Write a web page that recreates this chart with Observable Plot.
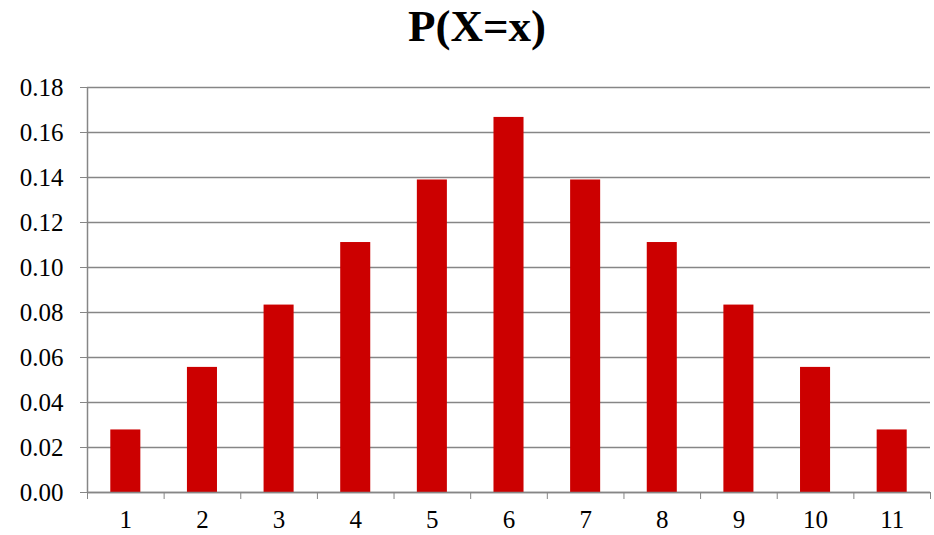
<!DOCTYPE html>
<html>
<head>
<meta charset="utf-8">
<script src="https://cdn.jsdelivr.net/npm/d3@7"></script>
<script src="https://cdn.jsdelivr.net/npm/@observablehq/plot@0.6"></script>
<style>
  body { margin: 0; background: #fff; }
  #title { height: 65px; box-sizing: border-box; padding-top: 4px; padding-left: 20px; width: 934px;
    text-align: center; font-family: "Liberation Serif", serif; font-weight: bold; font-size: 45px; line-height: 45px; color: #000; }
  #chart svg { display: block; }
</style>
</head>
<body>
<div id="title">P(X=x)</div>
<div id="chart"></div>
<script>
const categories = [1, 2, 3, 4, 5, 6, 7, 8, 9, 10, 11];
const probabilities = [0.0278, 0.0556, 0.0833, 0.1111, 0.1389, 0.1667, 0.1389, 0.1111, 0.0833, 0.0556, 0.0278];
const yTicks = [0, 0.02, 0.04, 0.06, 0.08, 0.10, 0.12, 0.14, 0.16, 0.18];

const data = categories.map((c, i) => ({x: c, p: probabilities[i]}));
const xDomain = [categories[0] - 0.5, categories[categories.length - 1] + 0.5];
const boundaries = categories.map(c => c - 0.5).concat([xDomain[1]]);
const half = 0.196;
const gray = "#868686";

const chart = Plot.plot({
  width: 934,
  height: 470,
  marginTop: 22,
  marginBottom: 43,
  marginLeft: 87,
  marginRight: 4,
  style: {fontFamily: "Liberation Serif, serif", fontSize: "25px", color: "#000", background: "#fff"},
  x: {domain: xDomain},
  y: {domain: [0, 0.18]},
  marks: [
    Plot.gridY(yTicks, {stroke: gray, strokeOpacity: 1, strokeWidth: 1.5}),
    Plot.rectY(data, {x1: d => d.x - half, x2: d => d.x + half, y: "p", fill: "#CC0000"}),
    Plot.ruleX([xDomain[0]], {y1: 0, y2: 0.18, stroke: gray, strokeWidth: 1.5}),
    Plot.ruleY([0], {stroke: gray, strokeWidth: 1.5}),
    Plot.axisY({ticks: yTicks, tickFormat: d => d.toFixed(2), tickSize: 7, tickPadding: 17, stroke: gray, fontSize: 25, label: null}),
    Plot.axisX({ticks: boundaries, tickFormat: () => "", tickSize: 7, stroke: gray, label: null}),
    Plot.axisX({ticks: categories, tickFormat: d => String(d), tickSize: 0, tickPadding: 18, fontSize: 25, label: null})
  ]
});
document.getElementById("chart").appendChild(chart);
</script>
</body>
</html>
